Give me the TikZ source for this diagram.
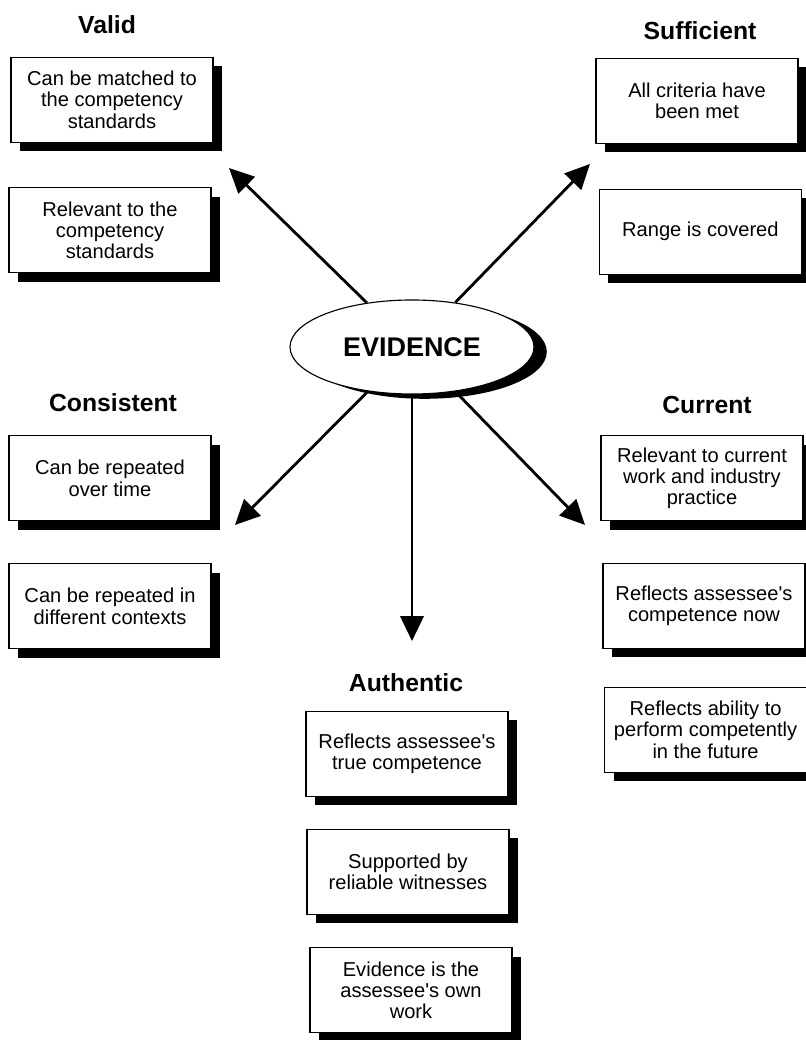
\documentclass[tikz,border=0pt]{standalone}
\usepackage{fontspec}
\setmainfont{Liberation Sans}
\usetikzlibrary{arrows.meta,positioning,shapes.geometric,shadows}

\begin{document}
\begin{tikzpicture}[
    criterion/.style={draw, line width=0.8pt, fill=white, minimum width=5.05cm, minimum height=2.125cm, align=center, font=\fontsize{14.3}{15.2}\selectfont, drop shadow={shadow xshift=0.225cm, shadow yshift=-0.225cm, fill=black, opacity=1}},
    heading/.style={font=\fontsize{17.6}{20}\selectfont\bfseries},
    pointer/.style={-{Triangle[length=0.62cm, width=0.58cm]}, line width=2pt}]
  \useasboundingbox (0,0) rectangle (20.15,26);
  \node[ellipse, draw, line width=0.8pt, fill=white, inner sep=0pt, minimum width=6.1cm, minimum height=2.35cm, font=\fontsize{19.2}{22}\selectfont\bfseries, drop shadow={shadow xshift=0.32cm, shadow yshift=-0.12cm, fill=black, opacity=1}] (evidence) at (10.3,17.325) {EVIDENCE};

  \node[heading] (valid) at (2.675,25.375) {Valid};
  \node[criterion] (valid1) at (2.8,23.51) {Can be matched to\\the competency\\standards};
  \node[criterion] (valid2) at (2.75,20.24) {Relevant to the\\competency\\standards};

  \node[heading] (sufficient) at (17.5,25.225) {Sufficient};
  \node[criterion] (sufficient1) at (17.425,23.475) {All criteria have\\been met};
  \node[criterion] (sufficient2) at (17.51,20.21) {Range is covered};

  \node[heading] (consistent) at (2.825,15.925) {Consistent};
  \node[criterion] (consistent1) at (2.75,14.04) {Can be repeated\\over time};
  \node[criterion] (consistent2) at (2.75,10.84) {Can be repeated in\\different contexts};

  \node[heading] (current) at (17.675,15.875) {Current};
  \node[criterion] (current1) at (17.55,14.04) {Relevant to current\\work and industry\\practice};
  \node[criterion] (current2) at (17.6,10.86) {Reflects assessee\textquotesingle s\\competence now};
  \node[criterion] (current3) at (17.64,7.76) {Reflects ability to\\perform competently\\in the future};

  \node[heading] (authentic) at (10.15,8.925) {Authentic};
  \node[criterion] (authentic1) at (10.175,7.15) {Reflects assessee\textquotesingle s\\true competence};
  \node[criterion] (authentic2) at (10.2,4.2) {Supported by\\reliable witnesses};
  \node[criterion] (authentic3) at (10.275,1.24) {Evidence is the\\assessee\textquotesingle s own\\work};

  \coordinate (tipvalid) at (5.725,21.8);
  \coordinate (tipsufficient) at (14.75,21.9);
  \coordinate (tipconsistent) at (5.875,12.875);
  \coordinate (tipcurrent) at (14.625,12.875);
  \coordinate (tipauthentic) at (10.3,9.975);
  \foreach \t in {valid,sufficient,consistent,current,authentic}
    \draw[pointer] (evidence) -- (tip\t);
\end{tikzpicture}
\end{document}
